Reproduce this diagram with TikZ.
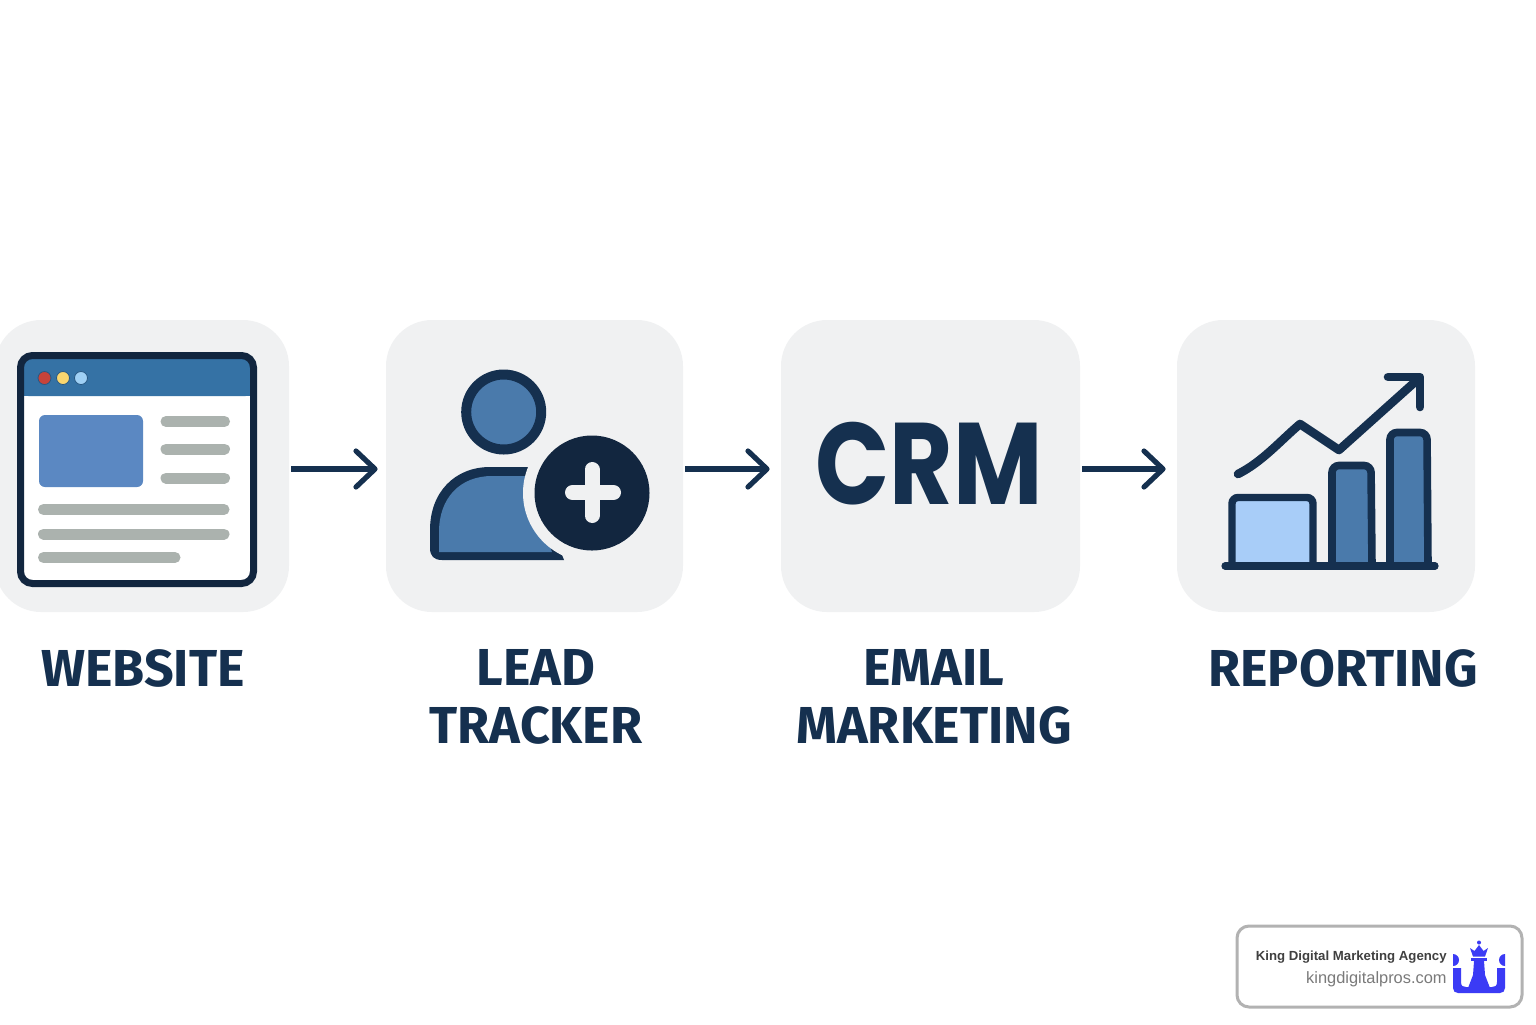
\documentclass[tikz,border=0pt]{standalone}
\usepackage{fontspec}
\setmainfont{Fira Sans}
\newfontfamily\logofont{Liberation Sans}
\newfontfamily\crmfont{Poppins}
\usetikzlibrary{arrows.meta}
\definecolor{navy}{HTML}{15304F}
\definecolor{darknavy}{HTML}{12263F}
\definecolor{panelgrey}{HTML}{F0F1F2}
\definecolor{headblue}{HTML}{3572A5}
\definecolor{imgblue}{HTML}{5B88C2}
\definecolor{barblue}{HTML}{4A7AAB}
\definecolor{lightblue}{HTML}{A8CDF8}
\definecolor{linegrey}{HTML}{ABB2AE}
\definecolor{logoblue}{HTML}{3B3BF5}
\definecolor{dotred}{HTML}{C8433A}
\definecolor{dotyellow}{HTML}{FAD66F}
\definecolor{dotblue}{HTML}{9FD0F5}
\tikzset{
	panel/.style={fill=panelgrey,rounded corners=23pt,minimum height=146pt,inner sep=0pt},
	caption/.style={text=navy,font=\fontsize{26}{29}\selectfont\bfseries,align=center,inner sep=0pt},
	flow/.style={navy,line width=2.6pt,shorten <=1pt,shorten >=5.5pt,-{Straight Barb[length=9.5pt,width=18pt,round]}},
	textline/.style={linegrey,line width=5.5pt,line cap=round},
	dot/.style={draw=headblue!60!navy,line width=.4pt},
}
\begin{document}
\begin{tikzpicture}[x=0.5pt,y=-0.5pt]
	\useasboundingbox (0,0) rectangle (1536,1024);
	%panels
	\node[panel,minimum width=147pt] (website) at (142,466) {};
	\node[panel,minimum width=148.5pt] (lead) at (534.5,466) {};
	\node[panel,minimum width=149.5pt] (crm) at (930.5,466) {};
	\node[panel,minimum width=149pt] (report) at (1326,466) {};
	%arrows between panels
	\draw[flow,shorten >=4pt] ([yshift=-1.5pt]website.east)--([yshift=-1.5pt]lead.west);
	\draw[flow] ([yshift=-1.5pt]lead.east)--([yshift=-1.5pt]crm.west);
	\draw[flow] ([yshift=-1.5pt]crm.east)--([yshift=-1.5pt]report.west);
	%browser window
	\fill[white,rounded corners=6pt] (20.5,355.5) rectangle (253.5,583.5);
	\fill[headblue,rounded corners=4pt] (20.5,396)--(20.5,355.5)--(253.5,355.5)--(253.5,396)--cycle;
	\fill[headblue] (20.5,385) rectangle (253.5,396);
	\draw[darknavy,line width=3.5pt,rounded corners=6pt] (20.5,355.5) rectangle (253.5,583.5);
	\fill[dotred,dot] (44.5,378) circle (6.5);
	\fill[dotyellow,dot] (63,378) circle (6.5);
	\fill[dotblue,dot] (81,378) circle (6.5);
	\fill[imgblue,rounded corners=3pt] (39,415) rectangle (143,487);
	\draw[textline] (166,421.5)--(224.5,421.5);
	\draw[textline] (166,449)--(224.5,449);
	\draw[textline] (166,478)--(224.5,478);
	\draw[textline] (43.5,509.5)--(224,509.5);
	\draw[textline] (43.5,534)--(224,534);
	\draw[textline] (43.5,557.5)--(175,557.5);
	%person with plus
	\draw[navy,line width=5pt,fill=barblue] (503.7,412) circle (37.5);
	\fill[navy] (528,467)--(490,467) .. controls (455,467) and (430,492) .. (430,530)--(430,548) .. controls (430,556) and (434,560) .. (442,560)--(564,560)--cycle;
	\fill[barblue] (526,476)--(492,476) .. controls (460,476) and (439,498) .. (439,532)--(439,552)--(552,552)--cycle;
	\fill[panelgrey] (592,493) circle (69);
	\fill[darknavy] (592,493) circle (57.5);
	\draw[panelgrey,line width=7.5pt,line cap=round] (572.5,492.5)--(613.5,492.5);
	\draw[panelgrey,line width=7.5pt,line cap=round] (592,469.5)--(592,515.5);
	%crm text
	\node[text=navy,inner sep=0pt,xscale=.84,font=\fontsize{58}{58}\selectfont\crmfont\bfseries] (crmtext) at (929,464) {CRM};
	%chart
	\fill[lightblue,draw=navy,line width=3.7pt,rounded corners=3pt] (1232,566)--(1232,497.5)--(1313,497.5)--(1313,566);
	\fill[barblue,draw=navy,line width=3.8pt,rounded corners=3.5pt] (1332,566)--(1332,465.5)--(1371,465.5)--(1372,566);
	\fill[barblue,draw=navy,line width=3.8pt,rounded corners=3.5pt] (1390,566)--(1390,432.5)--(1427,432.5)--(1428,566);
	\draw[navy,line width=3.6pt,line cap=round] (1225,566)--(1435,566);
	\draw[navy,line width=4.3pt,line cap=round,line join=round] (1238,474) .. controls (1262,462) and (1280,441) .. (1300,424)--(1339,450)--(1416,381);
	\draw[navy,line width=4.3pt,line cap=round,line join=round] (1388,377)--(1420,377)--(1420,407);
	%captions
	\node[caption] (webcap) at (143,668) {WEBSITE};
	\node[caption] (leadcap) at (536,697) {LEAD\\TRACKER};
	\node[caption] (mailcap) at (934,697) {EMAIL\\MARKETING};
	\node[caption] (repcap) at (1343,668) {REPORTING};
	%badge
	\node[draw=black!30,line width=1.5pt,fill=white,rounded corners=6pt,minimum width=142.5pt,minimum height=40.5pt,inner sep=0pt] (badge) at (1379.5,966.5) {};
	\node[anchor=east,inner sep=0pt,text=black!75,font=\fontsize{6.6}{6.6}\selectfont\logofont\bfseries] (agency) at (1447,957) {King Digital Marketing Agency};
	\node[anchor=east,inner sep=0pt,text=black!52,font=\fontsize{8.2}{8.2}\selectfont\logofont] (domain) at (1447,979) {kingdigitalpros.com};
	%logo
	\fill[logoblue] (1453,968)--(1461,968)--(1461,982) .. controls (1461,986) and (1463,987) .. (1466,987)--(1492,987) .. controls (1495,987) and (1497,986) .. (1497,982)--(1497,968)--(1505,968)--(1505,988) .. controls (1505,991) and (1503,993) .. (1500,993)--(1458,993) .. controls (1455,993) and (1453,991) .. (1453,988)--cycle;
	\fill[logoblue] (1453,954) arc (-90:90:6)--cycle;
	\fill[logoblue] (1505,954) arc (270:90:6)--cycle;
	\fill[logoblue] (1474,961)--(1484,961)--(1485,975)--(1490,988)--(1468,988)--(1473,975)--cycle;
	\fill[logoblue] (1471,958)--(1487,958)--(1487,961)--(1471,961)--cycle;
	\fill[logoblue] (1473,956.5)--(1470,948)--(1474.5,951)--(1479,945)--(1483.5,951)--(1488,948)--(1485,956.5)--cycle;
	\fill[logoblue] (1479,942.5) circle (2);
\end{tikzpicture}
\end{document}
